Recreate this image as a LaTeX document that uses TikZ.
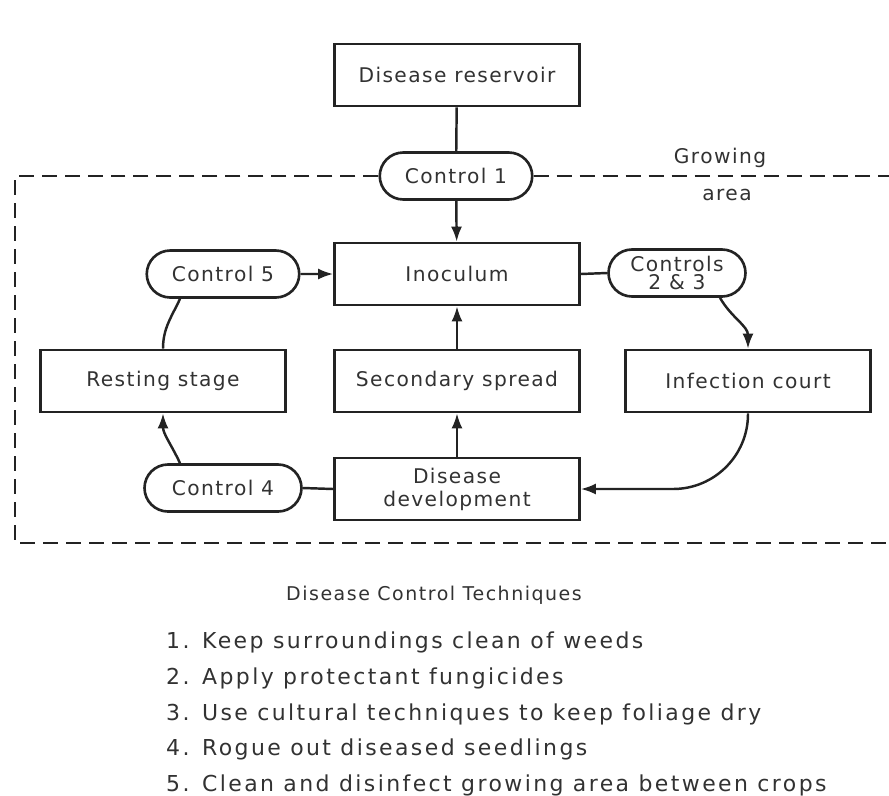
\documentclass[tikz,border=0pt]{standalone}
\usepackage{fontspec}
\setmainfont{DejaVu Sans}[LetterSpace=7]
\usetikzlibrary{shapes.misc,arrows.meta,positioning}
\definecolor{ink}{RGB}{35,35,35}
\definecolor{textgray}{RGB}{50,50,50}

\begin{document}
\begin{tikzpicture}[
    x=0.02cm, y=-0.02cm,
    every node/.style={font=\fontsize{11.5}{13}\selectfont, text=textgray},
    stage/.style={draw=ink, line width=1.5pt, minimum width=4.9cm, minimum height=1.24cm, align=center},
    control/.style={draw=ink, line width=1.5pt, rounded rectangle, minimum width=3.05cm, minimum height=0.94cm, inner sep=0pt, align=center},
    link/.style={ink, line width=1.4pt},
    arrow/.style={link, -{Latex[length=3mm, width=2.2mm]}},
]
\useasboundingbox (0,0) rectangle (889,795);

% Reservoir and first control
\node[stage] (reservoir) at (457,75) {Disease reservoir};
\node[control] (c1) at (456,176) {Control 1};

% Growing area boundary
\draw[link, line width=1.6pt, dash pattern=on 3mm off 1.6mm] (c1.west) -- (15,176) -- (15,543) -- (889,543);
\draw[link, line width=1.6pt, dash pattern=on 3mm off 1.6mm] (c1.east) -- (889,176);
\node (growing) at (720,158) {Growing};
\node (area) at (727,195) {area};

% Disease cycle
\node[stage] (inoculum) at (457,274) {Inoculum};
\node[stage] (secondary) at (457,381) {Secondary spread};
\node[stage, inner sep=0pt] (development) at (457,489) {Disease\\[0pt] development};
\node[stage] (resting) at (163,381) {Resting stage};
\node[stage] (infection) at (748,381) {Infection court};

% Controls
\node[control] (c5) at (223,274) {Control 5};
\node[control, minimum width=2.74cm] (c23) at (677,273) {Controls\\[-3pt] 2 \& 3};
\node[control, minimum width=3.14cm] (c4) at (223,488) {Control 4};

% Connectors
\draw[link] (reservoir) -- (c1);
\draw[arrow] (c1) -- (inoculum);
\draw[arrow] (c5) -- (inoculum);
\draw[link] (inoculum.east) -- (c23.west);
\draw[arrow] (c23.-30) to[out=-60, in=90] (infection.north);
\draw[arrow, rounded corners=1.5cm] (infection.south) |- (development.east);
\draw[arrow] (development) -- (secondary);
\draw[arrow] (secondary) -- (inoculum);
\draw[link] (development.west) -- (c4.east);
\draw[arrow] (c4.150) to[out=115, in=-90] (resting.south);
\draw[link] (resting.north) to[out=90, in=-115] (c5.210);

% Legend
\node[font=\fontsize{10.8}{13}\selectfont\addfontfeature{LetterSpace=8}] (title) at (434,595) {Disease Control Techniques};
\node[anchor=north west, align=left, font=\fontsize{12.5}{20.3}\selectfont\addfontfeature{LetterSpace=11}] (techniques) at (160,626) {
    1. Keep surroundings clean of weeds\\
    2. Apply protectant fungicides\\
    3. Use cultural techniques to keep foliage dry\\
    4. Rogue out diseased seedlings\\
    5. Clean and disinfect growing area between crops
};

\end{tikzpicture}
\end{document}
